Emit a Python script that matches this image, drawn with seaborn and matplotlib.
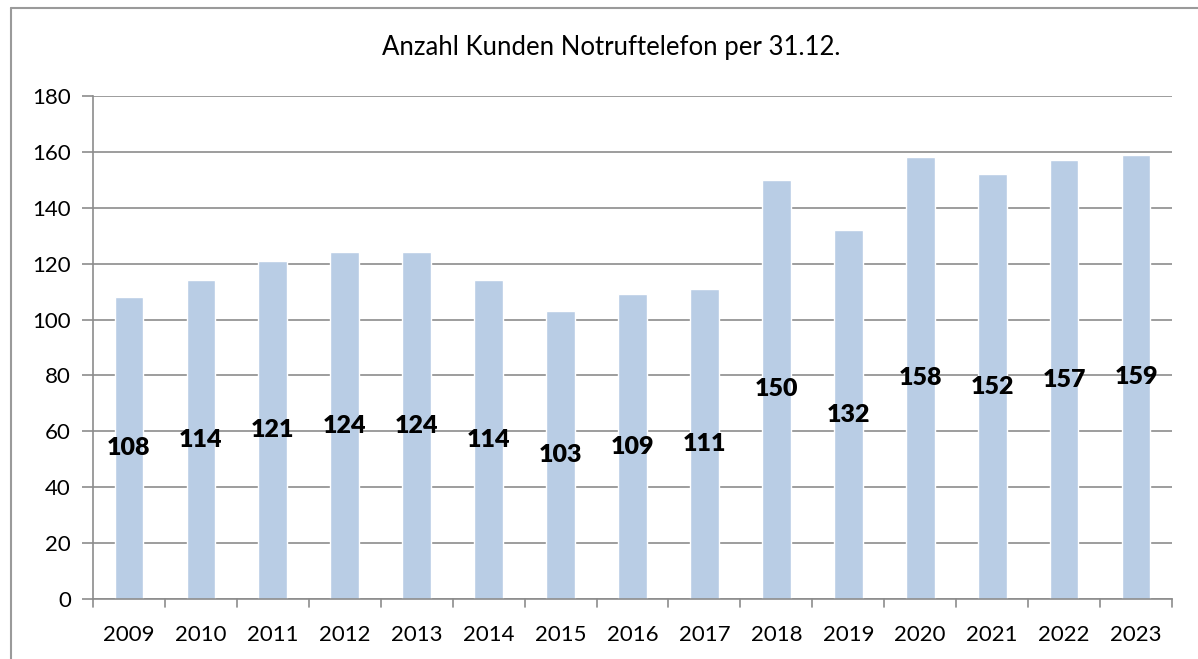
import matplotlib
matplotlib.use("Agg")
import matplotlib.pyplot as plt
from matplotlib.lines import Line2D
import pandas as pd
import seaborn as sns

years = ["2009", "2010", "2011", "2012", "2013", "2014", "2015", "2016",
         "2017", "2018", "2019", "2020", "2021", "2022", "2023"]
kunden = [108, 114, 121, 124, 124, 114, 103, 109, 111, 150, 132, 158, 152, 157, 159]
y_ticks = [0, 20, 40, 60, 80, 100, 120, 140, 160, 180]

df = pd.DataFrame({"Jahr": years, "Kunden": kunden})

sns.set_theme(style="white")
plt.rcParams["font.family"] = ["Lato", "DejaVu Sans"]

fig = plt.figure(figsize=(11.98, 6.59), dpi=100)
ax = fig.add_axes([93 / 1198, 1 - 599 / 659, (1172 - 93) / 1198, (599 - 96) / 659])

sns.barplot(data=df, x="Jahr", y="Kunden", color="#B9CDE5", width=0.4,
            saturation=1, ax=ax, zorder=2)

grid_col = "#8c8c8c"
ax.set_ylim(0, 180)
ax.set_yticks(y_ticks)
ax.set_xlim(-0.5, len(years) - 0.5)
ax.yaxis.grid(True, color=grid_col, linewidth=1.2, zorder=0)
ax.set_axisbelow(True)
for side in ["top", "right"]:
    ax.spines[side].set_visible(False)
for side in ["left", "bottom"]:
    ax.spines[side].set_color(grid_col)
    ax.spines[side].set_linewidth(1.2)

ax.tick_params(axis="y", length=8, width=1.2, color=grid_col, left=True,
               labelsize=16, pad=8, labelcolor="black")
ax.tick_params(axis="x", length=0, labelsize=16, pad=19, labelcolor="black")
# category boundary ticks on the x axis
for b in range(len(years) + 1):
    ax.plot([b - 0.5, b - 0.5], [0, -3], color=grid_col, linewidth=1.2,
            clip_on=False, transform=ax.transData)
ax.set_xlabel("")
ax.set_ylabel("")

for i, v in enumerate(kunden):
    ax.text(i, v / 2, str(v), ha="center", va="center", fontsize=18,
            fontweight="heavy", color="black", zorder=3)

fig.text(611 / 1198, 1 - 48 / 659, "Anzahl Kunden Notruftelefon per 31.12.",
         ha="center", va="center", fontsize=18.5, color="black")

# outer chart frame
frame_col = "#9a9a9a"
fig.add_artist(Line2D([11 / 1198, 11 / 1198], [0, 1 - 8 / 659],
                      transform=fig.transFigure, color=frame_col, linewidth=1.5))
fig.add_artist(Line2D([11 / 1198, 1], [1 - 8 / 659, 1 - 8 / 659],
                      transform=fig.transFigure, color=frame_col, linewidth=1.5))

fig.savefig("out.png", dpi=100)
